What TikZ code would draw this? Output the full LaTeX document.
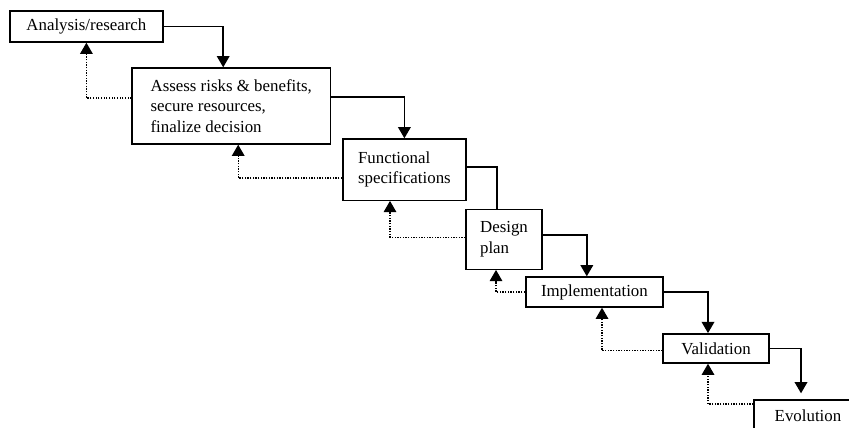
\documentclass[tikz,border=0pt]{standalone}
\usepackage{fontspec}
\setmainfont{Liberation Serif}
\usepackage{tikz}
\usetikzlibrary{arrows.meta}

\begin{document}
\begin{tikzpicture}[
  stage/.style={draw, line width=1pt, inner sep=3pt, align=left,
                font=\fontsize{12}{14.5}\selectfont},
  flow/.style={-{Triangle[width=9pt,length=8pt]}, line width=1.1pt},
  link/.style={line width=1.1pt},
  back/.style={-{Triangle[width=9pt,length=8pt]}, line width=0.9pt, densely dotted},
]
\useasboundingbox (0,0) rectangle (21.225,-10.675);
\clip (0,0) rectangle (21.225,-10.675);

% Stages
\node[stage, minimum width=3.83cm, minimum height=0.78cm] (ana) at (2.16,-0.66) {Analysis/research};
\node[stage, minimum width=4.95cm, minimum height=1.9cm] (risk) at (5.78,-2.65)
  {Assess risks \& benefits,\\secure resources,\\finalize decision};
\node[stage, minimum width=3.08cm, minimum height=1.53cm] (func) at (10.11,-4.24)
  {Functional\\specifications};
\node[stage, minimum width=1.9cm, minimum height=1.5cm] (design) at (12.6,-5.98) {Design\\plan};
\node[stage, minimum width=3.43cm, minimum height=0.75cm] (impl) at (14.86,-7.3) {Implementation};
\node[stage, minimum width=2.65cm, minimum height=0.73cm] (valid) at (17.9,-8.71) {Validation};
\node[stage, minimum width=2.7cm, minimum height=0.8cm] (evol) at (20.2,-10.4) {Evolution};

% Forward
\draw[flow] (ana.east) -| ([xshift=-0.2cm]risk.north);
\draw[flow] ([yshift=0.225cm]risk.east) -| (func.north);
\draw[link] ([yshift=0.06cm]func.east) -| ([xshift=-0.175cm]design.north);
\draw[flow] ([yshift=0.1cm]design.east) -| ([xshift=-0.19cm]impl.north);
\draw[flow] (impl.east) -| ([xshift=-0.2cm]valid.north);
\draw[flow, shorten >=0.15cm] (valid.east) -| ([xshift=-0.175cm]evol.north);

% Feedback
\draw[back] ([yshift=0.2cm]risk.west) -| (ana.south);
\draw[back] ([yshift=-0.21cm]func.west) -| ([xshift=0.175cm]risk.south);
\draw[back] ([yshift=0.05cm]design.west) -| ([xshift=-0.36cm]func.south);
\draw[back] (impl.west) -| ([xshift=-0.2cm]design.south);
\draw[back] ([yshift=-0.06cm]valid.west) -| ([xshift=0.19cm]impl.south);
\draw[back] ([yshift=0.3cm]evol.west) -| ([xshift=-0.2cm]valid.south);

\end{tikzpicture}
\end{document}
